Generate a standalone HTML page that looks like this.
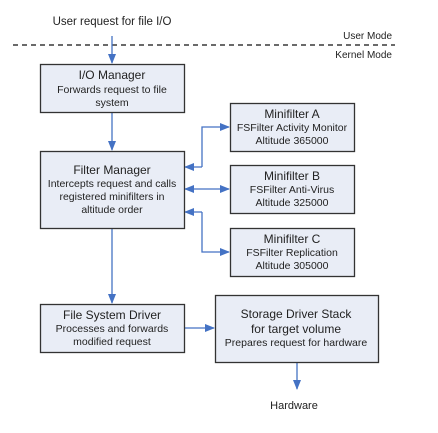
<!DOCTYPE html>
<html><head><meta charset="utf-8"><style>
html,body{margin:0;padding:0;background:#fff;}
svg text{font-family:"Liberation Sans",Arial,sans-serif;fill:#222;}
</style></head><body>
<svg width="438" height="428" viewBox="0 0 438 428" xmlns="http://www.w3.org/2000/svg">
<defs>
<marker id="a" markerWidth="10" markerHeight="8" refX="9" refY="4" orient="auto" markerUnits="userSpaceOnUse">
<path d="M0,0 L10,4 L0,8 Z" fill="#4472c4"/></marker>
</defs>
<text x="112" y="25" font-size="11.5" text-anchor="middle">User request for file I/O</text>
<text x="392" y="39" font-size="10" text-anchor="end">User Mode</text>
<text x="392" y="58" font-size="10" text-anchor="end">Kernel Mode</text>
<line x1="13" y1="45" x2="395" y2="45" stroke="#111" stroke-width="1.2" stroke-dasharray="5,4"/>
<g stroke="#4472c4" stroke-width="1.3" fill="none">
<line x1="112" y1="36" x2="112" y2="63" marker-end="url(#a)"/>
<line x1="112" y1="112" x2="112" y2="150" marker-end="url(#a)"/>
<line x1="112" y1="228" x2="112" y2="303" marker-end="url(#a)"/>
<line x1="184" y1="328" x2="214" y2="328" marker-end="url(#a)"/>
<line x1="297" y1="362" x2="297" y2="389" marker-end="url(#a)"/>
<polyline points="202,167 202,127 229,127" marker-end="url(#a)"/>
<line x1="202" y1="167" x2="185" y2="167" marker-end="url(#a)"/>
<line x1="205" y1="189" x2="229" y2="189" marker-end="url(#a)"/>
<line x1="205" y1="189" x2="185" y2="189" marker-end="url(#a)"/>
<polyline points="202,212 202,252 229,252" marker-end="url(#a)"/>
<line x1="202" y1="212" x2="185" y2="212" marker-end="url(#a)"/>
</g>
<g fill="#e9edf6" stroke="#333" stroke-width="1.3">
<rect x="40.5" y="64.5" width="144" height="48"/>
<rect x="40.5" y="151.5" width="144" height="77"/>
<rect x="230.5" y="103.5" width="124" height="48"/>
<rect x="230.5" y="165.5" width="124" height="48"/>
<rect x="230.5" y="228.5" width="124" height="48"/>
<rect x="40.5" y="304.5" width="144" height="48"/>
<rect x="215.5" y="295.5" width="163" height="67"/>
</g>
<g text-anchor="middle" font-size="10.5">
<text x="112" y="79" font-size="12">I/O Manager</text>
<text x="112" y="93">Forwards request to file</text>
<text x="112" y="106">system</text>
<text x="112" y="174" font-size="12">Filter Manager</text>
<text x="112" y="187">Intercepts request and calls</text>
<text x="112" y="200">registered minifilters in</text>
<text x="112" y="213">altitude order</text>
<text x="292" y="118" font-size="12">Minifilter A</text>
<text x="292" y="131">FSFilter Activity Monitor</text>
<text x="292" y="144">Altitude 365000</text>
<text x="292" y="180" font-size="12">Minifilter B</text>
<text x="292" y="193">FSFilter Anti-Virus</text>
<text x="292" y="206">Altitude 325000</text>
<text x="292" y="243" font-size="12">Minifilter C</text>
<text x="292" y="256">FSFilter Replication</text>
<text x="292" y="269">Altitude 305000</text>
<text x="112" y="319" font-size="12">File System Driver</text>
<text x="112" y="332">Processes and forwards</text>
<text x="112" y="345">modified request</text>
<text x="296" y="318" font-size="12">Storage Driver Stack</text>
<text x="296" y="333" font-size="12">for target volume</text>
<text x="296" y="346">Prepares request for hardware</text>
<text x="294" y="409" font-size="11">Hardware</text>
</g>
</svg>
</body></html>
